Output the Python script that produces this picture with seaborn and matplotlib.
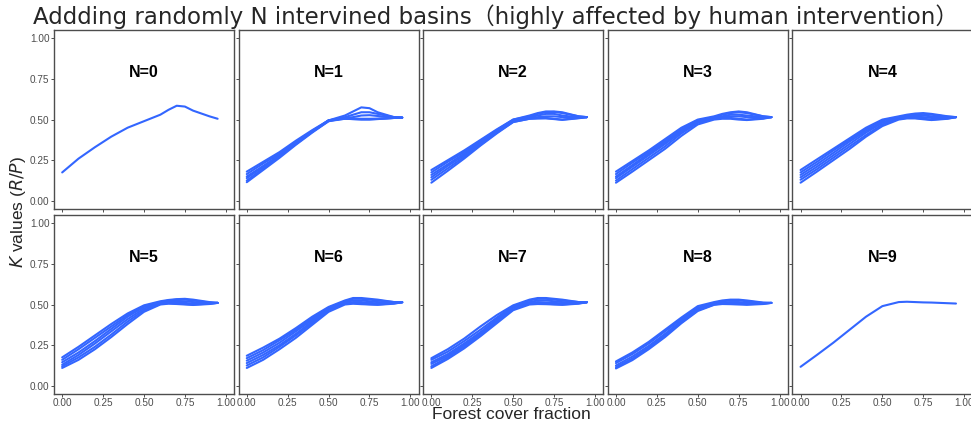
import numpy as np
import pandas as pd
import matplotlib
matplotlib.use("Agg")
import matplotlib.pyplot as plt
import seaborn as sns

# forest cover fraction grid shared by every fitted curve
FOREST = [0, 0.1, 0.2, 0.3, 0.4, 0.5, 0.6, 0.65, 0.7, 0.75, 0.8, 0.9, 0.95]

# K values (R/P), one list per fitted curve
K_N0 = [
    [0.175, 0.26, 0.33, 0.395, 0.45, 0.49, 0.53, 0.56, 0.585, 0.58, 0.555, 0.52, 0.505],
]
K_N1 = [
    [0.18, 0.24, 0.30, 0.37, 0.435, 0.495, 0.525, 0.55, 0.575, 0.57, 0.545, 0.515, 0.512],
    [0.165, 0.23, 0.29, 0.36, 0.43, 0.495, 0.515, 0.53, 0.545, 0.545, 0.535, 0.515, 0.512],
    [0.15, 0.215, 0.28, 0.355, 0.425, 0.49, 0.51, 0.515, 0.525, 0.527, 0.522, 0.513, 0.512],
    [0.14, 0.21, 0.28, 0.35, 0.425, 0.495, 0.508, 0.506, 0.505, 0.505, 0.506, 0.51, 0.512],
    [0.125, 0.20, 0.275, 0.35, 0.425, 0.495, 0.505, 0.503, 0.502, 0.502, 0.504, 0.51, 0.512],
    [0.115, 0.19, 0.265, 0.345, 0.42, 0.49, 0.505, 0.503, 0.500, 0.500, 0.503, 0.51, 0.512],
]
K_N2 = [
    [0.19, 0.25, 0.31, 0.375, 0.44, 0.50, 0.525, 0.54, 0.55, 0.55, 0.545, 0.52, 0.515],
    [0.175, 0.24, 0.30, 0.37, 0.435, 0.50, 0.52, 0.535, 0.545, 0.547, 0.54, 0.52, 0.515],
    [0.16, 0.225, 0.29, 0.36, 0.43, 0.495, 0.515, 0.525, 0.535, 0.535, 0.525, 0.513, 0.515],
    [0.145, 0.215, 0.28, 0.355, 0.425, 0.49, 0.51, 0.515, 0.52, 0.52, 0.515, 0.512, 0.515],
    [0.13, 0.20, 0.27, 0.345, 0.42, 0.485, 0.505, 0.508, 0.51, 0.505, 0.50, 0.51, 0.515],
    [0.112, 0.185, 0.26, 0.34, 0.415, 0.485, 0.505, 0.507, 0.507, 0.503, 0.498, 0.508, 0.515],
]
K_N3 = [
    [0.18, 0.245, 0.31, 0.38, 0.45, 0.50, 0.52, 0.535, 0.545, 0.55, 0.545, 0.52, 0.515],
    [0.165, 0.235, 0.30, 0.37, 0.44, 0.495, 0.515, 0.53, 0.54, 0.545, 0.54, 0.52, 0.515],
    [0.15, 0.22, 0.29, 0.36, 0.43, 0.49, 0.51, 0.52, 0.53, 0.53, 0.525, 0.515, 0.515],
    [0.14, 0.21, 0.28, 0.35, 0.425, 0.485, 0.51, 0.515, 0.52, 0.52, 0.515, 0.51, 0.515],
    [0.125, 0.195, 0.265, 0.335, 0.415, 0.48, 0.505, 0.51, 0.51, 0.505, 0.50, 0.508, 0.515],
    [0.112, 0.18, 0.25, 0.32, 0.40, 0.47, 0.50, 0.505, 0.505, 0.50, 0.497, 0.505, 0.515],
]
K_N4 = [
    [0.19, 0.255, 0.32, 0.385, 0.45, 0.50, 0.52, 0.53, 0.537, 0.54, 0.535, 0.52, 0.515],
    [0.175, 0.24, 0.31, 0.375, 0.44, 0.495, 0.515, 0.525, 0.533, 0.535, 0.53, 0.518, 0.515],
    [0.16, 0.225, 0.295, 0.365, 0.43, 0.485, 0.51, 0.52, 0.525, 0.525, 0.52, 0.513, 0.515],
    [0.145, 0.21, 0.28, 0.35, 0.42, 0.48, 0.51, 0.515, 0.517, 0.515, 0.51, 0.51, 0.515],
    [0.13, 0.195, 0.265, 0.335, 0.405, 0.47, 0.505, 0.51, 0.51, 0.505, 0.50, 0.507, 0.515],
    [0.112, 0.18, 0.25, 0.32, 0.395, 0.46, 0.50, 0.507, 0.507, 0.502, 0.497, 0.505, 0.515],
]
K_N5 = [
    [0.175, 0.24, 0.31, 0.38, 0.445, 0.495, 0.52, 0.528, 0.533, 0.535, 0.53, 0.515, 0.51],
    [0.16, 0.225, 0.295, 0.365, 0.435, 0.49, 0.515, 0.525, 0.53, 0.53, 0.525, 0.512, 0.51],
    [0.145, 0.205, 0.275, 0.35, 0.425, 0.485, 0.512, 0.52, 0.522, 0.52, 0.515, 0.51, 0.51],
    [0.13, 0.19, 0.26, 0.335, 0.41, 0.475, 0.508, 0.513, 0.513, 0.51, 0.505, 0.507, 0.51],
    [0.12, 0.175, 0.24, 0.315, 0.395, 0.465, 0.503, 0.508, 0.507, 0.503, 0.50, 0.505, 0.51],
    [0.11, 0.16, 0.225, 0.30, 0.38, 0.455, 0.50, 0.505, 0.503, 0.50, 0.497, 0.503, 0.51],
]
K_N6 = [
    [0.185, 0.235, 0.29, 0.355, 0.425, 0.485, 0.525, 0.54, 0.54, 0.535, 0.53, 0.515, 0.514],
    [0.17, 0.22, 0.28, 0.345, 0.415, 0.48, 0.52, 0.535, 0.535, 0.53, 0.525, 0.515, 0.514],
    [0.155, 0.205, 0.265, 0.335, 0.405, 0.475, 0.515, 0.525, 0.525, 0.52, 0.515, 0.512, 0.514],
    [0.14, 0.19, 0.25, 0.32, 0.395, 0.47, 0.51, 0.515, 0.515, 0.51, 0.507, 0.51, 0.514],
    [0.125, 0.175, 0.24, 0.31, 0.385, 0.465, 0.505, 0.508, 0.505, 0.502, 0.50, 0.507, 0.514],
    [0.11, 0.16, 0.225, 0.295, 0.375, 0.455, 0.50, 0.505, 0.502, 0.50, 0.498, 0.505, 0.514],
]
K_N7 = [
    [0.17, 0.225, 0.29, 0.365, 0.435, 0.495, 0.53, 0.54, 0.54, 0.535, 0.53, 0.515, 0.514],
    [0.16, 0.21, 0.275, 0.345, 0.42, 0.49, 0.525, 0.535, 0.535, 0.53, 0.525, 0.515, 0.514],
    [0.145, 0.195, 0.26, 0.33, 0.41, 0.485, 0.515, 0.525, 0.525, 0.52, 0.515, 0.512, 0.514],
    [0.135, 0.185, 0.25, 0.325, 0.405, 0.48, 0.51, 0.515, 0.513, 0.51, 0.507, 0.51, 0.514],
    [0.12, 0.175, 0.24, 0.315, 0.395, 0.47, 0.505, 0.507, 0.505, 0.502, 0.50, 0.507, 0.514],
    [0.11, 0.165, 0.23, 0.305, 0.385, 0.465, 0.50, 0.503, 0.502, 0.50, 0.498, 0.505, 0.514],
]
K_N8 = [
    [0.15, 0.205, 0.27, 0.345, 0.42, 0.49, 0.515, 0.525, 0.53, 0.53, 0.525, 0.512, 0.51],
    [0.14, 0.195, 0.26, 0.335, 0.41, 0.48, 0.51, 0.52, 0.525, 0.525, 0.52, 0.51, 0.51],
    [0.125, 0.18, 0.245, 0.32, 0.40, 0.472, 0.505, 0.513, 0.515, 0.515, 0.51, 0.508, 0.51],
    [0.115, 0.168, 0.235, 0.31, 0.39, 0.465, 0.50, 0.507, 0.507, 0.505, 0.502, 0.505, 0.51],
    [0.107, 0.158, 0.225, 0.30, 0.385, 0.46, 0.498, 0.503, 0.502, 0.50, 0.498, 0.503, 0.51],
]
K_N9 = [
    [0.117, 0.19, 0.265, 0.345, 0.425, 0.49, 0.515, 0.517, 0.515, 0.513, 0.512, 0.508, 0.506],
]

PANELS = ["N=0", "N=1", "N=2", "N=3", "N=4", "N=5", "N=6", "N=7", "N=8", "N=9"]
CURVES = [K_N0, K_N1, K_N2, K_N3, K_N4, K_N5, K_N6, K_N7, K_N8, K_N9]
TICKS = [0, 0.25, 0.5, 0.75, 1.0]
TICK_LABELS = ["0.00", "0.25", "0.50", "0.75", "1.00"]

BLUE = "#3366FF"
GREY = "#4d4d4d"

rows = []
for name, curves in zip(PANELS, CURVES):
    for ci, ks in enumerate(curves):
        for f, k in zip(FOREST, ks):
            rows.append({"N": name, "curve": ci, "forest": f, "K": k})
df = pd.DataFrame(rows)

sns.set_theme(style="ticks")
plt.rcParams["font.family"] = ["Liberation Sans", "DejaVu Sans"]

g = sns.FacetGrid(df, col="N", col_wrap=5, col_order=PANELS, height=2.0, aspect=1.0,
                  sharex=True, sharey=True, despine=False)
g.map_dataframe(sns.lineplot, x="forest", y="K", units="curve", estimator=None,
                color=BLUE, linewidth=1.5)

g.figure.set_size_inches(9.71, 4.24)
g.figure.subplots_adjust(left=0.0556, right=1.0014, top=0.929, bottom=0.0708,
                         wspace=0.0256, hspace=0.0335)

g.set(xlim=(-0.05, 1.05), ylim=(-0.05, 1.05), xticks=TICKS, yticks=TICKS)
g.set_titles("")
g.set_axis_labels("", "")

for ax, name in zip(g.axes.flat, PANELS):
    for sp in ax.spines.values():
        sp.set_color(GREY)
        sp.set_linewidth(1.0)
    ax.tick_params(length=2.0, width=0.7, color=GREY, labelcolor=GREY,
                   labelsize=7.2, pad=1.2)
    ax.set_xticklabels(TICK_LABELS)
    ax.set_yticklabels(TICK_LABELS)
    ax.text(0.5, 0.765, name, transform=ax.transAxes, ha="center", va="center",
            fontsize=11.5, fontweight="bold", color="black")

g.figure.suptitle("Addding randomly N intervined basins（highly affected by human intervention）",
                  x=0.51, y=0.99, va="top", fontsize=16.5,
                  family=["DejaVu Sans", "Noto Sans CJK SC"])
g.figure.text(0.527, 0.011, "Forest cover fraction", ha="center", va="baseline",
              fontsize=12.5)
g.figure.text(0.019, 0.5, "$K$ values ($R/P$)", rotation=90, ha="center", va="center",
              fontsize=12.5)

g.figure.savefig("out.png", dpi=100)
